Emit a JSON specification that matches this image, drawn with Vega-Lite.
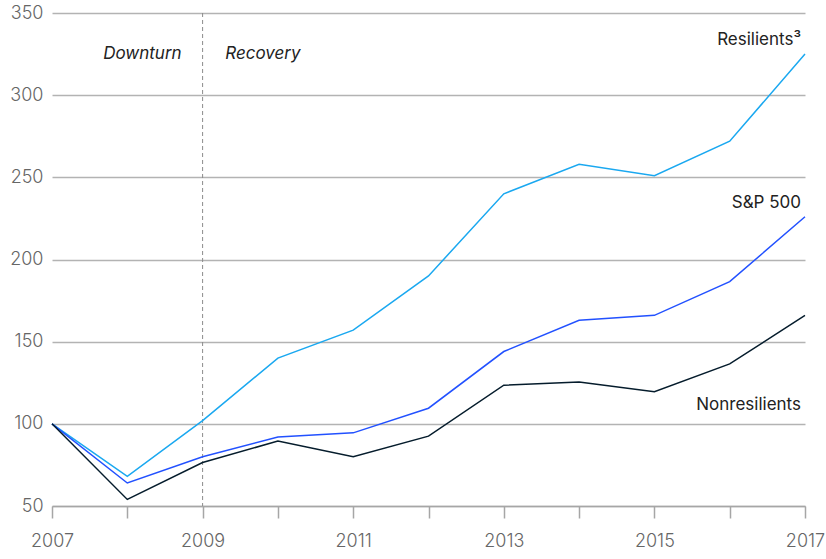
{
  "$schema": "https://vega.github.io/schema/vega-lite/v6.json",
  "width": 753,
  "height": 493,
  "autosize": "none",
  "padding": {"left": 52, "top": 13, "right": 21, "bottom": 53},
  "background": "white",
  "config": {
    "view": {"stroke": null},
    "font": "Inter",
    "axis": {"labelFont": "Inter", "labelColor": "#666666", "labelFontSize": 17, "labelFontWeight": 300}
  },
  "datasets": {
    "series": [
      {"year": 2007, "value": 100, "series": "Resilients"},
      {"year": 2008, "value": 68, "series": "Resilients"},
      {"year": 2009, "value": 102, "series": "Resilients"},
      {"year": 2010, "value": 140, "series": "Resilients"},
      {"year": 2011, "value": 157, "series": "Resilients"},
      {"year": 2012, "value": 190, "series": "Resilients"},
      {"year": 2013, "value": 240, "series": "Resilients"},
      {"year": 2014, "value": 258, "series": "Resilients"},
      {"year": 2015, "value": 251, "series": "Resilients"},
      {"year": 2016, "value": 272, "series": "Resilients"},
      {"year": 2017, "value": 325, "series": "Resilients"},
      {"year": 2007, "value": 100, "series": "S&P 500"},
      {"year": 2008, "value": 64, "series": "S&P 500"},
      {"year": 2009, "value": 80, "series": "S&P 500"},
      {"year": 2010, "value": 92, "series": "S&P 500"},
      {"year": 2011, "value": 94.5, "series": "S&P 500"},
      {"year": 2012, "value": 109.5, "series": "S&P 500"},
      {"year": 2013, "value": 144, "series": "S&P 500"},
      {"year": 2014, "value": 163, "series": "S&P 500"},
      {"year": 2015, "value": 166, "series": "S&P 500"},
      {"year": 2016, "value": 186.5, "series": "S&P 500"},
      {"year": 2017, "value": 226, "series": "S&P 500"},
      {"year": 2007, "value": 100, "series": "Nonresilients"},
      {"year": 2008, "value": 54, "series": "Nonresilients"},
      {"year": 2009, "value": 76.5, "series": "Nonresilients"},
      {"year": 2010, "value": 89.5, "series": "Nonresilients"},
      {"year": 2011, "value": 80, "series": "Nonresilients"},
      {"year": 2012, "value": 92.5, "series": "Nonresilients"},
      {"year": 2013, "value": 123.5, "series": "Nonresilients"},
      {"year": 2014, "value": 125.5, "series": "Nonresilients"},
      {"year": 2015, "value": 119.5, "series": "Nonresilients"},
      {"year": 2016, "value": 136.5, "series": "Nonresilients"},
      {"year": 2017, "value": 166, "series": "Nonresilients"}
    ],
    "labels": [
      {"year": 2017, "value": 333.5, "label": "Resilients³", "series": "Resilients"},
      {"year": 2017, "value": 234.5, "label": "S&P 500", "series": "S&P 500"},
      {"year": 2017, "value": 111.5, "label": "Nonresilients", "series": "Nonresilients"}
    ],
    "phases": [
      {"year": 2008.2, "value": 325, "label": "Downturn"},
      {"year": 2009.8, "value": 325, "label": "Recovery"}
    ],
    "divider": [{"year": 2009}]
  },
  "layer": [
    {
      "data": {"name": "divider"},
      "mark": {"type": "rule", "color": "#8c8c8c", "strokeDash": [4, 3], "strokeWidth": 1},
      "encoding": {
        "x": {"field": "year", "type": "quantitative", "scale": {"domain": [2007, 2017]}}
      }
    },
    {
      "data": {"name": "series"},
      "mark": {"type": "line", "strokeWidth": 1.5},
      "encoding": {
        "x": {
          "field": "year", "type": "quantitative",
          "scale": {"domain": [2007, 2017], "nice": false, "zero": false},
          "axis": {
            "title": null, "grid": false,
            "values": [2007, 2008, 2009, 2010, 2011, 2012, 2013, 2014, 2015, 2016, 2017],
            "labelExpr": "datum.value % 2 == 1 ? format(datum.value, 'd') : ''",
            "domainColor": "#a6a6a6", "domainWidth": 1.5,
            "tickColor": "#a6a6a6", "tickSize": 12, "tickWidth": 1.5,
            "labelPadding": 14, "labelFontSize": 18, "labelOverlap": false, "labelFlush": false
          }
        },
        "y": {
          "field": "value", "type": "quantitative",
          "scale": {"domain": [50, 350], "nice": false, "zero": false},
          "axis": {
            "title": null, "values": [50, 100, 150, 200, 250, 300, 350],
            "domain": false, "ticks": false, "labelPadding": 9, "labelFontSize": 18,
            "gridColor": "#b3b3b3", "gridWidth": 1.5
          }
        },
        "color": {
          "field": "series", "type": "nominal",
          "scale": {"domain": ["Resilients", "S&P 500", "Nonresilients"], "range": ["#1aa8f0", "#2251ff", "#051c2c"]},
          "legend": null
        }
      }
    },
    {
      "data": {"name": "labels"},
      "mark": {"type": "text", "align": "right", "baseline": "middle", "dx": -4, "fontSize": 17, "font": "Inter", "color": "#222222"},
      "encoding": {
        "x": {"field": "year", "type": "quantitative"},
        "y": {"field": "value", "type": "quantitative"},
        "text": {"field": "label"}
      }
    },
    {
      "data": {"name": "phases"},
      "mark": {"type": "text", "align": "center", "baseline": "middle", "fontSize": 17, "fontStyle": "italic", "font": "Inter", "color": "#222222"},
      "encoding": {
        "x": {"field": "year", "type": "quantitative"},
        "y": {"field": "value", "type": "quantitative"},
        "text": {"field": "label"}
      }
    }
  ]
}
